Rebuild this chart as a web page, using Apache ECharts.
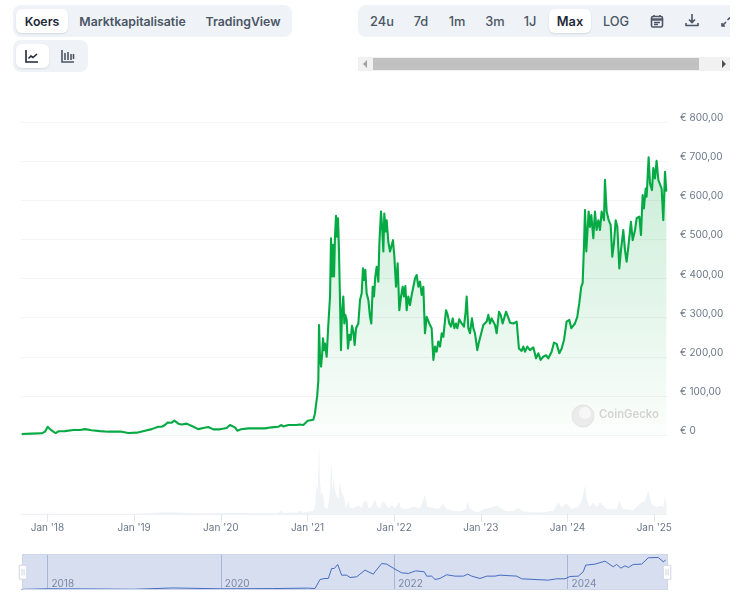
<!DOCTYPE html>
<html>
<head>
<meta charset="utf-8">
<script src="https://cdn.jsdelivr.net/npm/echarts@6/dist/echarts.min.js"></script>
<style>
  html, body { margin: 0; padding: 0; background: #fff; }
  body { width: 750px; height: 597px; position: relative; overflow: hidden; font-family: Inter, sans-serif; }
  #chart { position: absolute; left: 0; top: 0; width: 750px; height: 597px; }
  .box { position: absolute; background: #eff3f8; border-radius: 8px; }
  .on { position: absolute; background: #fff; border-radius: 6px; box-shadow: 0 1px 2px rgba(20,30,50,.12); }
  .t { position: absolute; transform: translate(-50%, -50%); white-space: nowrap; font-size: 12.3px; font-weight: 600; color: #4b5563; }
  .t.a { color: #1f2937; }
  .r { font-size: 12.8px; font-weight: 500; }
  svg.i { position: absolute; fill: none; stroke: #4b5563; stroke-width: 1.6; }
</style>
</head>
<body>
<div id="chart"></div>

<div class="box" style="left:13px;top:5px;width:279px;height:32px"></div>
<div class="on" style="left:16px;top:9px;width:52px;height:24px"></div>
<span class="t a" style="left:42px;top:20.5px">Koers</span>
<span class="t" style="left:132.5px;top:20.5px">Marktkapitalisatie</span>
<span class="t" style="left:243px;top:20.5px">TradingView</span>

<div class="box" style="left:13px;top:40px;width:75px;height:32px"></div>
<div class="on" style="left:16px;top:44px;width:33px;height:24px"></div>
<svg class="i" style="left:25px;top:49px" width="14" height="14" viewBox="0 0 14 14" stroke="#1f2937"><path d="M1 1V13H13" style="stroke:#1f2937"/><path d="M3.5 9.5L6 7L8 8.5L12 5" style="stroke:#1f2937"/></svg>
<svg class="i" style="left:61px;top:49px" width="14" height="14" viewBox="0 0 14 14"><path d="M1 1V13H13M4 4V11M7 3V11M10 5V11M12.5 5V10"/></svg>

<div class="box" style="left:358px;top:5px;width:372px;height:32px;border-radius:8px 0 0 8px"></div>
<div class="on" style="left:549px;top:9px;width:42px;height:24px"></div>
<span class="t r" style="left:382px;top:20.5px">24u</span>
<span class="t r" style="left:421px;top:20.5px">7d</span>
<span class="t r" style="left:457px;top:20.5px">1m</span>
<span class="t r" style="left:495px;top:20.5px">3m</span>
<span class="t r" style="left:530px;top:20.5px">1J</span>
<span class="t r a" style="left:570px;top:20.5px;font-weight:600">Max</span>
<span class="t r" style="left:616px;top:20.5px">LOG</span>
<svg class="i" style="left:650px;top:14px" width="14" height="14" viewBox="0 0 14 14"><rect x="1.5" y="2.5" width="11" height="10.5" rx="1.5"/><path d="M1.5 5.5H12.5" stroke-width="2.4"/><path d="M4 1V3M10 1V3M4 8.5H10M4 10.5H8"/></svg>
<svg class="i" style="left:685px;top:13px" width="14" height="14" viewBox="0 0 14 14"><path d="M7 1V9M4 6.5L7 9.5L10 6.5M1 10V12.5H13V10"/></svg>
<svg class="i" style="left:721px;top:15px" width="9" height="12" viewBox="0 0 9 12"><path d="M1 11L5 7M1 8V11H4M6.5 5L9 2.5"/></svg>

<div style="position:absolute;left:358px;top:57px;width:372px;height:14px;background:#f1f1f1"></div>
<div style="position:absolute;left:373px;top:58px;width:326px;height:12px;background:#c1c1c1"></div>
<svg style="position:absolute;left:362px;top:60px" width="6" height="8"><path d="M5 0V8L1 4Z" fill="#a3a3a3"/></svg>
<svg style="position:absolute;left:721px;top:60px" width="6" height="8"><path d="M1 0V8L5 4Z" fill="#505050"/></svg>

<script>
// price line, x in decimal years, y in euro
const priceYears = [
  2017.703,2017.818,2017.934,2017.972,2018.003,2018.030,2018.068,2018.095,2018.126,2018.203,2018.299,2018.376,2018.433,2018.510,2018.606,2018.703,2018.856,2018.933,
  2019.030,2019.126,2019.203,2019.279,2019.318,2019.356,2019.387,2019.433,2019.464,2019.510,2019.548,2019.606,2019.683,2019.740,2019.798,2019.856,2019.914,2019.990,
  2020.067,2020.106,2020.163,2020.190,2020.233,2020.317,2020.452,2020.510,2020.587,2020.663,2020.694,2020.721,2020.779,2020.875,2020.906,2020.952,
  2021.002,2021.067,2021.086,2021.098,2021.112,2021.125,2021.133,2021.144,2021.156,2021.167,2021.179,2021.190,2021.202,2021.221,2021.240,2021.260,2021.271,2021.283,2021.294,2021.306,2021.317,2021.329,2021.340,2021.352,2021.363,2021.375,2021.386,2021.398,
  2021.413,2021.425,2021.436,2021.452,2021.467,2021.483,2021.498,2021.513,2021.529,2021.544,2021.560,2021.586,2021.606,2021.625,2021.640,2021.652,2021.667,2021.682,2021.702,2021.721,2021.736,2021.752,2021.767,2021.782,2021.798,2021.817,2021.829,2021.848,2021.863,2021.875,2021.886,2021.902,2021.913,2021.932,2021.952,2021.971,2021.986,
  2022.002,2022.021,2022.040,2022.059,2022.079,2022.098,2022.113,2022.129,2022.144,2022.163,2022.182,2022.202,2022.221,2022.240,2022.259,2022.279,2022.298,2022.317,2022.336,2022.355,2022.375,2022.394,2022.413,2022.432,2022.452,2022.471,2022.490,2022.509,2022.529,2022.548,2022.567,2022.598,2022.617,2022.636,2022.655,2022.675,2022.694,2022.713,2022.728,2022.751,2022.778,2022.805,2022.824,2022.836,2022.855,2022.874,2022.897,2022.913,2022.932,2022.959,2022.974,2022.997,
  2023.028,2023.047,2023.067,2023.086,2023.105,2023.124,2023.163,2023.182,2023.209,2023.228,2023.251,2023.270,2023.290,2023.313,2023.336,2023.374,2023.413,2023.439,2023.470,2023.489,2023.509,2023.536,2023.566,2023.605,2023.636,2023.663,2023.689,2023.720,2023.751,2023.778,2023.816,2023.843,2023.874,2023.905,2023.932,2023.959,2023.989,
  2024.020,2024.043,2024.066,2024.085,2024.112,2024.135,2024.158,2024.174,2024.189,2024.201,2024.216,2024.228,2024.243,2024.258,2024.274,2024.297,2024.316,2024.335,2024.355,2024.374,2024.393,2024.420,2024.431,2024.451,2024.474,2024.497,2024.516,2024.535,2024.555,2024.574,2024.597,2024.616,2024.643,2024.662,2024.681,2024.701,2024.731,2024.751,2024.778,2024.797,2024.828,2024.847,2024.866,2024.881,2024.901,2024.912,2024.935,2024.951,2024.974,2024.989,
  2025.008,2025.027,2025.047,2025.066,2025.085,2025.104,2025.124,2025.139
];
const priceValues = [
  2.5,3.4,4.3,8.5,21,15,8.5,5,9.4,10,12.8,12.8,15,12,10,8.5,8.5,5,
  6,11,15,21,21,25.5,32,31.5,36.6,29,27,29,21,15,18,20.5,14.5,14.5,
  18,25.5,19.6,11,14.5,17,17,17,19.6,21,25.5,22,25.5,25.5,27,25.5,
  36.6,39,55,77,100,140,281,200,175,200,247,217,234,200,281,354,503,405,486,405,507,560,507,554,473,345,217,311,
  354,285,307,294,221,256,243,279,264,230,273,285,345,362,426,396,422,362,345,302,285,379,354,405,430,392,490,571,524,469,566,520,549,494,469,464,498,
  456,379,439,319,354,379,354,381,319,354,332,358,362,400,409,379,392,358,379,260,302,307,281,273,192,226,213,239,226,260,251,319,307,285,277,298,273,285,273,296,285,277,315,354,273,260,298,273,260,217,234,230,
  281,277,290,307,285,298,281,260,315,307,285,290,315,302,287,285,290,221,215,226,213,226,217,224,196,209,192,200,204,196,213,236,233,209,221,243,290,
  294,273,273,285,302,337,379,388,481,575,469,515,571,532,562,503,571,524,549,524,571,549,652,571,549,537,456,490,549,532,426,473,524,473,443,481,545,498,524,554,558,511,613,579,630,609,710,643,626,682,
  656,701,652,652,630,549,673,622
];

// trading volume, bn euro
const volumeYears = [
  2017.70,2018.00,2018.40,2019.00,2019.36,2019.47,2019.70,2020.10,2020.30,2020.337,2020.664,2020.691,2020.722,2020.875,2020.914,2020.952,
  2021.068,2021.091,2021.102,2021.118,2021.133,2021.144,2021.156,2021.175,2021.198,2021.229,2021.248,2021.260,2021.275,2021.287,2021.302,2021.317,2021.333,2021.356,2021.375,2021.394,2021.421,2021.444,2021.471,2021.491,2021.529,2021.587,2021.625,2021.644,2021.683,2021.702,2021.740,2021.779,2021.798,2021.837,2021.867,2021.894,2021.933,2021.971,
  2022.010,2022.060,2022.075,2022.144,2022.221,2022.298,2022.356,2022.383,2022.452,2022.509,2022.567,2022.606,2022.683,2022.759,2022.829,2022.844,2022.867,2022.913,2022.971,
  2023.029,2023.105,2023.182,2023.221,2023.297,2023.374,2023.431,2023.489,2023.605,2023.720,2023.835,2023.893,2023.931,2023.989,
  2024.047,2024.124,2024.162,2024.200,2024.227,2024.258,2024.297,2024.335,2024.374,2024.450,2024.566,2024.597,2024.643,2024.758,2024.854,2024.893,2024.931,2024.969,
  2025.027,2025.066,2025.104,2025.123,2025.143
];
const volumeValues = [
  .03,.08,.05,.04,.23,.23,.09,.14,.14,.09,.09,.46,.19,.19,.46,.19,
  .46,1.39,3.94,3.24,9.95,4.63,2.55,3.01,.93,.69,1.85,3.7,7.64,3.24,5.09,3.47,2.55,2.08,4.63,3.01,2.31,.83,1.85,.83,.83,1.16,.83,1.62,1.85,.83,1.02,2.08,1.16,.83,1.76,1.48,.83,1.16,
  .83,1.71,.83,.69,1.02,.83,2.69,1.02,.83,.69,1.39,.69,.46,.37,.69,1.85,.93,.37,.23,
  .69,.83,1.16,.83,.37,.46,.83,.37,.23,.23,.46,1.62,.93,1.48,
  .69,1.02,1.85,3.94,1.85,.93,1.62,.93,1.62,.69,.69,1.85,.69,.56,1.62,1.85,3.24,1.39,
  .93,1.16,.93,2.55,.93
];

// navigator line is coarser than the main one
const navYears = [
  2017.70,2018.00,2018.50,2019.00,2019.45,2020.00,2020.60,2021.00,2021.087,2021.144,2021.202,2021.240,2021.279,2021.309,2021.348,2021.394,2021.452,2021.490,2021.567,2021.663,2021.759,2021.778,2021.856,2021.913,
  2022.009,2022.086,2022.163,2022.248,2022.347,2022.375,2022.432,2022.471,2022.528,2022.605,2022.701,2022.797,2022.848,2022.894,2022.990,
  2023.067,2023.163,2023.220,2023.413,2023.470,2023.624,2023.778,2023.874,2023.970,
  2024.028,2024.124,2024.181,2024.209,2024.316,2024.431,2024.527,2024.566,2024.616,2024.662,2024.701,2024.758,2024.855,2024.931,2025.046,2025.104,2025.131
];
const navPrices = [
  3,15,12,6,33,15,20,30,22,217,239,239,456,456,543,311,311,261,275,420,333,383,564,550,
  442,362,348,405,384,290,290,217,239,319,290,290,333,290,239,
  290,290,311,290,232,217,203,232,232,
  282,290,384,529,550,615,492,543,463,514,478,543,550,688,695,601,637
];

const yearTicks = [2018, 2019, 2020, 2021, 2022, 2023, 2024, 2025];
const navTicks = [2018, 2020, 2022, 2024];

const zip = (xs, ys) => xs.map((x, i) => [x, ys[i]]);
const xMin = 2017.695, xMax = 2025.147;

const chart = echarts.init(document.getElementById('chart'), null, { renderer: 'canvas' });
chart.setOption({
  animation: false,
  textStyle: { fontFamily: 'Inter' },
  grid: [
    { left: 21, right: 83, top: 122, height: 313 },
    { left: 21, right: 83, top: 441, height: 73 },
    { left: 21, right: 83, top: 554, height: 35.5 }
  ],
  xAxis: [
    { type: 'value', gridIndex: 0, min: xMin, max: xMax, show: false },
    {
      type: 'value', gridIndex: 1, min: xMin, max: xMax,
      splitLine: { show: false },
      axisLine: { show: true, lineStyle: { color: '#eef0f4' } },
      axisTick: { show: true, length: 8, lineStyle: { color: '#e6e8ec' }, customValues: yearTicks },
      axisLabel: {
        margin: 9, color: '#6b7789', fontSize: 10, hideOverlap: false,
        customValues: yearTicks,
        formatter: v => "Jan '" + String(v).slice(2)
      }
    },
    {
      type: 'value', gridIndex: 2, min: xMin, max: xMax,
      splitLine: { show: false },
      axisLine: { show: false },
      axisTick: { show: true, inside: true, length: 35, lineStyle: { color: '#c6cedf' }, customValues: navTicks },
      axisLabel: {
        inside: true, margin: 1, align: 'left', padding: [0, 0, 0, 4],
        color: '#8d93a3', fontSize: 10, customValues: navTicks,
        formatter: v => String(v)
      }
    }
  ],
  yAxis: [
    {
      type: 'value', gridIndex: 0, position: 'right', min: 0, max: 800, interval: 100,
      axisLine: { show: false }, axisTick: { show: false },
      splitLine: { lineStyle: { color: '#f3f4f6' } },
      axisLabel: {
        margin: 13, color: '#6b7789', fontSize: 10, verticalAlign: 'bottom', lineHeight: 8,
        formatter: v => v === 0 ? '€ 0' : '€ ' + v + ',00'
      }
    },
    { type: 'value', gridIndex: 1, min: 0, max: 10.1, show: false },
    { type: 'value', gridIndex: 2, min: 0, max: 770, show: false }
  ],
  dataZoom: [{
    type: 'slider', xAxisIndex: [0, 1], filterMode: 'none', start: 0, end: 100,
    left: 21, right: 83, top: 554, height: 35.5,
    showDataShadow: false, showDetail: false, brushSelect: false, moveHandleSize: 0,
    backgroundColor: 'transparent', borderColor: '#cdd5e6', borderRadius: 0,
    fillerColor: 'rgba(51,92,173,0.2)',
    handleIcon: 'path://M0,0H7V13H0Z M2.5,3.5V9.5 M4.5,3.5V9.5',
    handleSize: 14,
    handleStyle: { color: '#fff', borderColor: '#cfd6e4', borderWidth: 1 }
  }],
  graphic: [
    { type: 'circle', shape: { cx: 583, cy: 416, r: 11 }, style: { fill: '#ebebeb', stroke: '#e2e2e2' }, z: 5 },
    { type: 'circle', shape: { cx: 585, cy: 413, r: 6 }, style: { fill: '#f7f7f7' }, z: 6 },
    { type: 'text', x: 599, y: 409, z: 5, style: { text: 'CoinGecko', fill: '#d3d3d3', font: '600 11.3px Inter' } }
  ],
  series: [
    {
      type: 'line', xAxisIndex: 0, yAxisIndex: 0, data: zip(priceYears, priceValues),
      showSymbol: false, sampling: false, z: 3,
      lineStyle: { color: '#06aa45', width: 2.1, join: 'round' },
      itemStyle: { color: '#06aa45' },
      areaStyle: {
        color: new echarts.graphic.LinearGradient(0, 0, 0, 1, [
          { offset: 0, color: 'rgba(0,168,62,0.30)' },
          { offset: 1, color: 'rgba(0,168,62,0.02)' }
        ])
      }
    },
    {
      type: 'line', xAxisIndex: 1, yAxisIndex: 1, data: zip(volumeYears, volumeValues),
      showSymbol: false, lineStyle: { width: 0 }, itemStyle: { color: '#f0f3f6' },
      areaStyle: { color: '#f0f3f6', opacity: 1 }
    },
    {
      type: 'line', xAxisIndex: 2, yAxisIndex: 2, data: zip(navYears, navPrices),
      showSymbol: false, lineStyle: { color: '#4a70c8', width: 1 }, itemStyle: { color: '#4a70c8' }
    }
  ]
});
</script>
</body>
</html>
